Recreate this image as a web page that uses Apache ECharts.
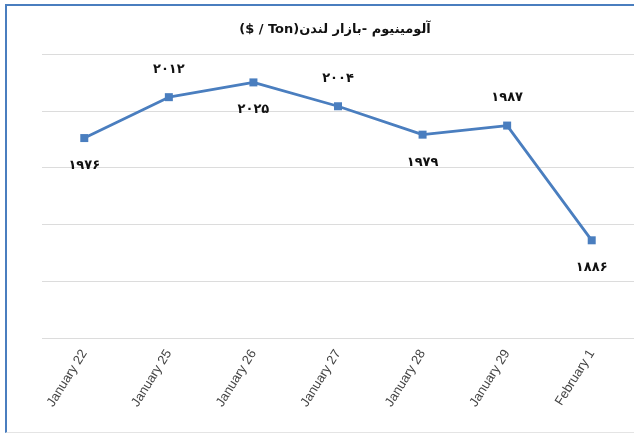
<!DOCTYPE html>
<html>
<head>
<meta charset="utf-8">
<script src="https://cdn.jsdelivr.net/npm/echarts@6/dist/echarts.min.js"></script>
<style>
  html, body { margin: 0; padding: 0; background: #fff; overflow: hidden; width: 634px; height: 437px; }
  #frame {
    position: absolute; left: 5px; top: 4px; width: 660px; height: 426px;
    border-left: 2px solid #4a7ebf; border-top: 2px solid #4a7ebf;
    border-bottom: 1px solid #e4e4e4;
  }
  #chart { position: absolute; left: 0; top: 0; width: 634px; height: 437px; }
</style>
</head>
<body>
<div id="frame"></div>
<div id="chart"></div>
<script>
const categories = ['January 22', 'January 25', 'January 26', 'January 27', 'January 28', 'January 29', 'February 1']
const prices = [1976, 2012, 2025, 2004, 1979, 1987, 1886]
const titleText = '($ / Ton)' + 'آلومینیوم -بازار لندن'

// labels alternate below / above the line like the original
const labelSide = ['bottom', 'top', 'bottom', 'top', 'bottom', 'top', 'bottom']

const toPersian = (n) => String(n).replace(/\d/g, d => '۰۱۲۳۴۵۶۷۸۹'[d])

const chart = echarts.init(document.getElementById('chart'), null, { renderer: 'canvas' })

chart.setOption({
  backgroundColor: 'transparent',
  animation: false,
  title: {
    text: titleText,
    left: 330,
    top: 18,
    textAlign: 'center',
    textStyle: { fontFamily: 'DejaVu Sans', fontSize: 13, fontWeight: 'bold', color: '#111' },
  },
  grid: { left: 42, right: -4, top: 54, bottom: 99 },
  xAxis: {
    type: 'category',
    data: categories,
    boundaryGap: true,
    axisLine: { show: false },
    axisTick: { show: false },
    axisLabel: {
      rotate: 58,
      margin: 13,
      interval: 0,
      color: '#444',
      fontFamily: 'Liberation Sans',
      fontSize: 13,
    },
  },
  yAxis: {
    type: 'value',
    min: 1800,
    max: 2050,
    interval: 50,
    axisLabel: { show: false },
    axisLine: { show: false },
    axisTick: { show: false },
    splitLine: { lineStyle: { color: '#dcdcdc', width: 1 } },
  },
  series: [
    {
      type: 'line',
      data: prices.map((v, i) => ({
        value: v,
        label: { position: labelSide[i] },
      })),
      symbol: 'rect',
      symbolSize: 8,
      lineStyle: { color: '#4a7ebf', width: 2.8 },
      itemStyle: { color: '#4a7ebf' },
      label: {
        show: true,
        distance: 17,
        formatter: p => toPersian(p.value),
        fontFamily: 'DejaVu Sans',
        fontWeight: 'bold',
        fontSize: 13,
        color: '#111',
      },
    },
  ],
})
</script>
</body>
</html>
